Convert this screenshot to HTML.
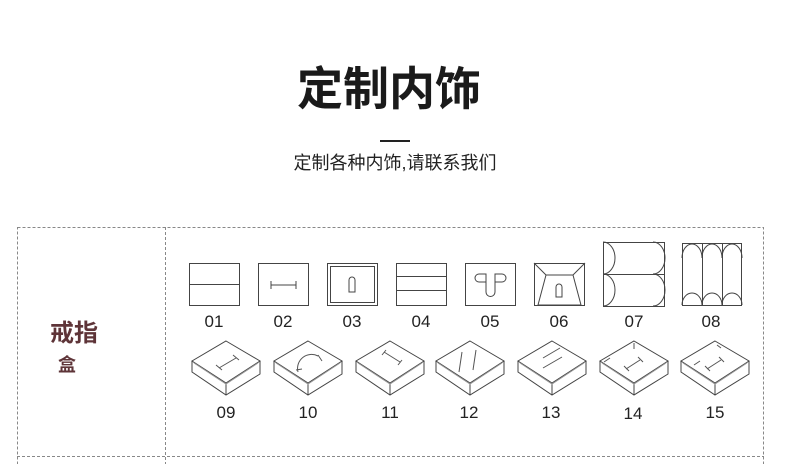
<!DOCTYPE html>
<html><head><meta charset="utf-8"><style>
body{margin:0;width:790px;height:464px;background:#fff;overflow:hidden;font-family:"Liberation Sans","Noto Sans CJK SC",sans-serif}
</style></head><body>
<svg width="790" height="464" xmlns="http://www.w3.org/2000/svg" style="position:absolute;left:0;top:0">
<text x="389" y="105" text-anchor="middle" font-size="46" font-weight="bold" fill="#1a1a1a" font-family="Liberation Sans,Noto Sans CJK SC,sans-serif">定制内饰</text>
<rect x="380" y="140" width="30" height="2" fill="#222"/>
<text x="395" y="169" text-anchor="middle" font-size="18" fill="#222" font-family="Liberation Sans,Noto Sans CJK SC,sans-serif">定制各种内饰,请联系我们</text>
<g stroke="#888" stroke-dasharray="3,2" fill="none" stroke-width="1">
<rect x="17.5" y="227.5" width="746" height="240"/>
<line x1="165.5" y1="227" x2="165.5" y2="464"/>
<line x1="17" y1="456.5" x2="764" y2="456.5"/>
</g>
<text x="74" y="341" text-anchor="middle" font-size="24" font-weight="bold" fill="#5e3438" font-family="Liberation Sans,Noto Sans CJK SC,sans-serif">戒指</text>
<text x="67" y="371" text-anchor="middle" font-size="18" font-weight="bold" fill="#5e3438" font-family="Liberation Sans,Noto Sans CJK SC,sans-serif">盒</text>
<g stroke="#444" fill="none" stroke-width="1">
<rect x="189.5" y="263.5" width="50" height="42"/><line x1="189" y1="284.5" x2="240" y2="284.5"/>
<rect x="258.5" y="263.5" width="50" height="42"/><line x1="271" y1="285" x2="296" y2="285"/><line x1="271" y1="281" x2="271" y2="289"/><line x1="296" y1="281" x2="296" y2="289"/>
<rect x="327.5" y="263.5" width="50" height="42"/><rect x="330.5" y="266.5" width="44" height="36"/><path d="M349 292V280a3 3 0 0 1 6 0V292Z"/>
<rect x="396.5" y="263.5" width="50" height="42"/><line x1="396" y1="276.5" x2="447" y2="276.5"/><line x1="396" y1="290.5" x2="447" y2="290.5"/>
<rect x="465.5" y="263.5" width="50" height="42"/><path d="M486 274h-7a4 4 0 0 0 0 8h7ZM495 274h7a4 4 0 0 1 0 8h-7ZM486 282v10a4.5 4.5 0 0 0 9 0v-10"/>
<rect x="534.5" y="263.5" width="50" height="42"/><path d="M546 275h27l8 30h-43Z"/><line x1="534" y1="263" x2="546" y2="275"/><line x1="585" y1="263" x2="573" y2="275"/><path d="M556 297v-10a3 3 0 0 1 6 0v10Z"/>
<rect x="603.5" y="242.5" width="61" height="64"/><line x1="603" y1="274.5" x2="665" y2="274.5"/>
<path d="M603 242a12 16 0 0 1 0 32a12 16 0 0 1 0 32M653 242a12 16 0 0 1 0 32a12 16 0 0 1 0 32"/>
<rect x="682.5" y="243.5" width="59" height="62"/><line x1="702.5" y1="243" x2="702.5" y2="305"/><line x1="722.5" y1="243" x2="722.5" y2="305"/>
<path d="M682 258a10 14 0 0 1 20 0a10 14 0 0 1 20 0a10 14 0 0 1 20 0M682 305a10 12 0 0 1 20 0a10 12 0 0 1 20 0a10 12 0 0 1 20 0"/>
</g>
<g font-size="17" fill="#222" text-anchor="middle" font-family="Liberation Sans,sans-serif">
<text x="214" y="327">01</text><text x="283" y="327">02</text><text x="352" y="327">03</text><text x="421" y="327">04</text><text x="490" y="327">05</text><text x="559" y="327">06</text><text x="634" y="327">07</text><text x="711" y="327">08</text>
<text x="226" y="418">09</text><text x="308" y="418">10</text><text x="390" y="418">11</text><text x="469" y="418">12</text><text x="551" y="418">13</text><text x="633" y="419">14</text><text x="715" y="418">15</text>
</g>
<defs><g id="box" stroke="#444" fill="none" stroke-width="1">
<path d="M0 -23L34 -3L0 19L-34 -3Z"/><path d="M-34 -3V8L0 31L34 10V-3"/><line x1="0" y1="19" x2="0" y2="31"/><path d="M-32 -1L0 20L32 -1" stroke="#999"/>
</g></defs>
<use href="#box" x="226" y="364"/><use href="#box" x="308" y="364"/><use href="#box" x="390" y="364"/><use href="#box" x="470" y="364"/><use href="#box" x="552" y="364"/><use href="#box" x="634" y="364"/><use href="#box" x="715" y="364"/>
<g stroke="#555" fill="none" stroke-width="1">
<path d="M219 368L236 358M216 365l6 5M233 355l6 5"/>
<path d="M298 372a14 14 0 0 1 20 -16M296 370l6 -1M318 355l4 6"/>
<path d="M384 352L400 362M382 355l4 -5M398 365l4 -5"/>
<path d="M462 352L459 372M476 350L473 370"/>
<path d="M543 358L560 348M543 368L562 357"/>
<path d="M626 369L640 360M624 366l5 5M638 357l5 5M604 362l6 -4M634 343l0 6"/>
<path d="M707 369L721 360M705 366l5 5M719 357l5 5M694 365l6 -4M717 345l4 3"/>
</g>
</svg>
</body></html>
